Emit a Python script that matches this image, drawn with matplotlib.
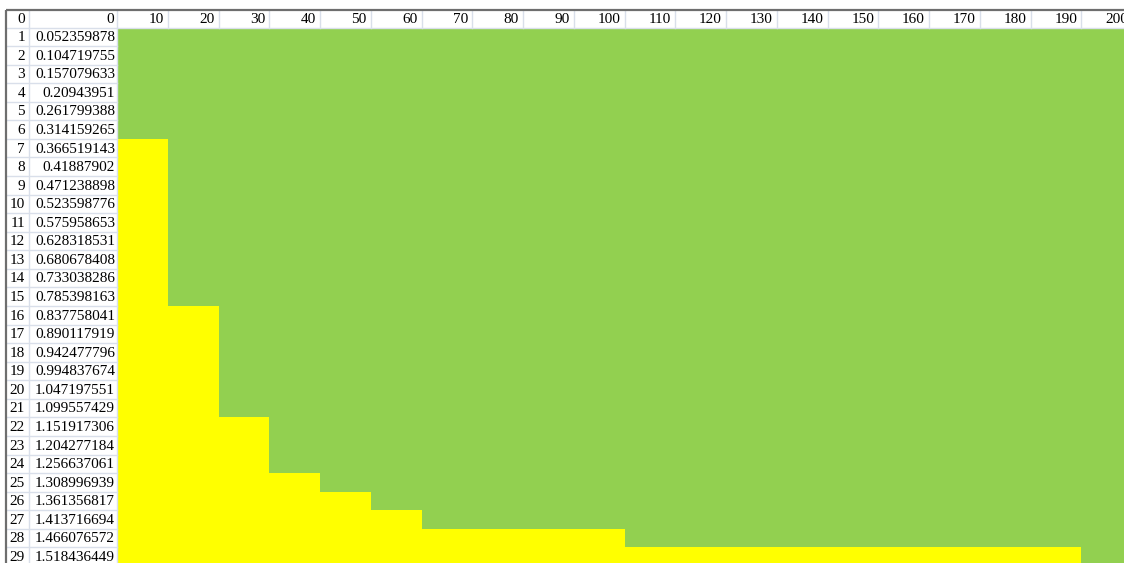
import numpy as np
import matplotlib
matplotlib.use("Agg")
import matplotlib.pyplot as plt
from matplotlib.colors import ListedColormap

# ---- data -------------------------------------------------------------
row_numbers = list(range(1, 30))
angles = [
    0.052359878, 0.104719755, 0.157079633, 0.20943951, 0.261799388,
    0.314159265, 0.366519143, 0.41887902, 0.471238898, 0.523598776,
    0.575958653, 0.628318531, 0.680678408, 0.733038286, 0.785398163,
    0.837758041, 0.890117919, 0.942477796, 0.994837674, 1.047197551,
    1.099557429, 1.151917306, 1.204277184, 1.256637061, 1.308996939,
    1.361356817, 1.413716694, 1.466076572, 1.518436449,
]
speeds = [10, 20, 30, 40, 50, 60, 70, 80, 90, 100,
          110, 120, 130, 140, 150, 160, 170, 180, 190, 200]
# first row (by row number) whose cell turns yellow, one per speed column
first_yellow_row = [7, 16, 22, 25, 26, 27, 28, 28, 28, 28,
                    29, 29, 29, 29, 29, 29, 29, 29, 29, 30]

# ---- sheet geometry (pixels) -----------------------------------------
W, H = 1124, 563
left, top = 6.0, 9.5
header_bottom = 27.5
row_h = 18.57
col_a_right = 29.0
col_b_right = 117.0
col_w = 50.75

GREEN = "#92D050"
YELLOW = "#FFFF00"
GRID = "#D9DFEA"
BORDER = "#6E6E6E"

fig = plt.figure(figsize=(W / 100, H / 100), dpi=100)
ax = fig.add_axes([0, 0, 1, 1])
ax.set_xlim(0, W)
ax.set_ylim(H, 0)
ax.axis("off")

n_rows = len(row_numbers)
n_cols = len(speeds)
row_edges = header_bottom + row_h * np.arange(n_rows + 1)
col_edges = col_b_right + col_w * np.arange(n_cols + 1)

# colour matrix: 1 = yellow, 0 = green
rows = np.array(row_numbers)[:, None]
state = (rows >= np.array(first_yellow_row)[None, :]).astype(float)
ax.pcolormesh(col_edges, row_edges, state,
              cmap=ListedColormap([GREEN, YELLOW]), vmin=0, vmax=1,
              shading="flat", edgecolors="none", antialiased=False)

# light grid in the header row and the two label columns
for x in [col_a_right, col_b_right] + list(col_edges[1:]):
    ax.plot([x, x], [top, header_bottom], color=GRID, lw=1.0)
for x in [col_a_right, col_b_right]:
    ax.plot([x, x], [header_bottom, H], color=GRID, lw=1.0)
ax.plot([left, W], [header_bottom, header_bottom], color=GRID, lw=1.0)
for y in row_edges[1:]:
    ax.plot([left, col_b_right], [y, y], color=GRID, lw=1.0)

# outer frame lines
ax.plot([left, W], [top, top], color=BORDER, lw=1.6, solid_capstyle="butt")
ax.plot([left, left], [top, H], color=BORDER, lw=1.6, solid_capstyle="butt")

font = dict(family=["Liberation Serif", "DejaVu Serif"], size=11,
            color="#000000", ha="right", va="center")

# header row
hy = (top + header_bottom) / 2 + 0.8
ax.text(col_a_right - 4, hy, "0", **font)
ax.text(col_b_right - 3, hy, "0", **font)
for s, x in zip(speeds, col_edges[1:]):
    ax.text(x - 4, hy, str(s), **font)


def fmt(v):
    s = f"{v:.9f}".rstrip("0")
    return s


for r, a, y0 in zip(row_numbers, angles, row_edges[:-1]):
    cy = y0 + row_h / 2 + 0.8
    ax.text(col_a_right - 4, cy, str(r), **font)
    ax.text(col_b_right - 2, cy, fmt(a), **font)

fig.savefig("out.png", dpi=100, facecolor="white")
